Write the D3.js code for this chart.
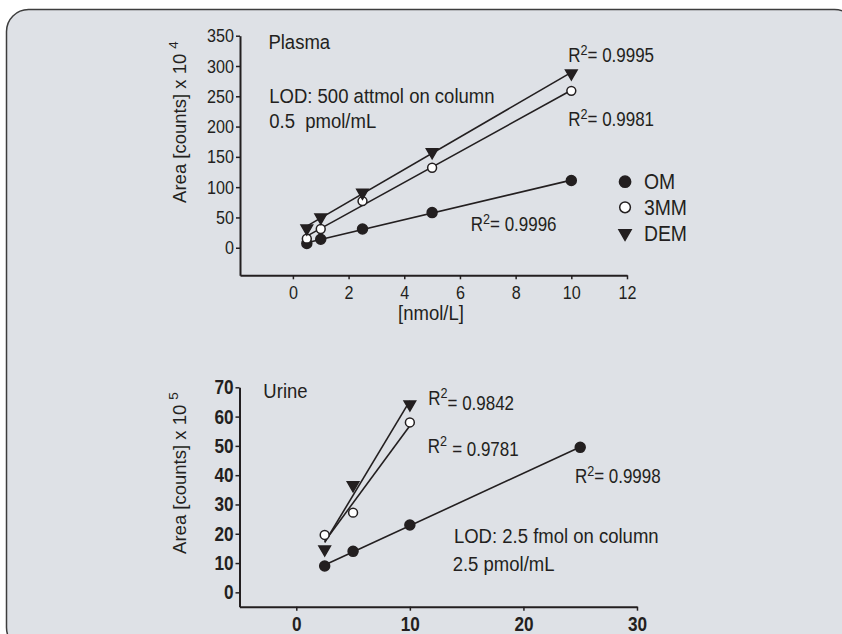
<!DOCTYPE html>
<html>
<head>
<meta charset="utf-8">
<script src="https://cdn.jsdelivr.net/npm/d3@7"></script>
<style>
  body { margin: 0; background: #fff; }
  svg { display: block; }
  text { font-family: 'Liberation Sans', Arial, sans-serif; fill: #231f20; white-space: pre; }
</style>
</head>
<body>
<div id="chart"></div>
<script>
// chart.js
const W = 842;
const H = 634;

const seriesNames = ['OM', '3MM', 'DEM'];

// plasma panel
const plasmaX = [0.5, 1, 2.5, 5, 10];
const plasmaOM = [7, 14, 31, 58, 111];
const plasma3MM = [15, 31, 77, 132, 259];
const plasmaDEM = [32, 50, 91, 158, 288];
const plasmaR2 = ['0.9996', '0.9981', '0.9995'];
const plasmaXTicks = [0, 2, 4, 6, 8, 10, 12];
const plasmaYTicks = [0, 50, 100, 150, 200, 250, 300, 350];

// urine panel
const urineX = [2.5, 5, 10, 25];
const urineOM = [9, 14, 23, 49.5];
const urine3MM = [19.6, 27.2, 58];
const urineDEM = [14.7, 36.6, 64.2];
const urineR2 = ['0.9998', '0.9781', '0.9842'];
const urineXTicks = [0, 10, 20, 30];
const urineYTicks = [0, 10, 20, 30, 40, 50, 60, 70];

const ink = '#231f20';

const svg = d3.select('#chart').append('svg').attr('width', W).attr('height', H);

// rounded grey background panel
svg.append('rect')
  .attr('x', 6.5).attr('y', 9.5)
  .attr('width', 850).attr('height', 640)
  .attr('rx', 22)
  .attr('fill', '#dee1e6')
  .attr('stroke', '#3d3d3d')
  .attr('stroke-width', 1.5);

function fit(xs, ys) {
  const mx = d3.mean(xs), my = d3.mean(ys);
  let sxy = 0, sxx = 0;
  xs.forEach((x, i) => { sxy += (x - mx) * (ys[i] - my); sxx += (x - mx) * (x - mx); });
  const b = sxy / sxx;
  return x => my + b * (x - mx);
}

const symbols = {
  OM: { type: d3.symbolCircle, size: 78, legend: 100, fill: ink, rot: 0 },
  '3MM': { type: d3.symbolCircle, size: 62, legend: 90, fill: '#fff', rot: 0 },
  DEM: { type: d3.symbolTriangle, size: 58, legend: 64, fill: ink, rot: 180 }
};

// text squeezed horizontally, the original face is a condensed one
function label(g, px, py, size, sx) {
  return g.append('text')
    .attr('transform', `translate(${px},${py}) scale(${sx},1)`)
    .style('font-size', size + 'px');
}

function drawPanel(cfg) {
  const g = svg.append('g');
  const x = d3.scaleLinear().domain(cfg.xDomain).range(cfg.xRange);
  const y = d3.scaleLinear().domain(cfg.yDomain).range(cfg.yRange);

  const yAxis = g.append('g')
    .attr('transform', `translate(${cfg.xRange[0]},0)`)
    .call(d3.axisLeft(y).tickValues(cfg.yTicks).tickSize(4).tickSizeOuter(0).tickPadding(2));
  const xAxis = g.append('g')
    .attr('transform', `translate(0,${cfg.yRange[0]})`)
    .call(d3.axisBottom(x).tickValues(cfg.xTicks).tickSize(4).tickSizeOuter(0).tickPadding(6));

  [yAxis, xAxis].forEach(a => {
    a.select('.domain').attr('stroke', ink).attr('stroke-width', 2);
    a.selectAll('.tick line').attr('stroke', ink).attr('stroke-width', 1.5);
    a.selectAll('.tick text')
      .attr('fill', ink)
      .style('font-family', "'Liberation Sans', Arial, sans-serif")
      .style('font-size', cfg.tickSize + 'px')
      .style('font-weight', cfg.tickWeight);
  });
  yAxis.selectAll('.tick text').attr('x', 0).attr('transform', `translate(-6,0) scale(${cfg.tickSx},1)`);
  xAxis.selectAll('.tick text').attr('transform', `scale(${cfg.tickSx},1)`);

  // y label with superscript exponent
  const yl = g.append('text')
    .attr('transform', `translate(${cfg.yLabelX},${cfg.yLabelY}) rotate(-90)`)
    .attr('text-anchor', 'middle')
    .style('font-size', '18.5px');
  yl.append('tspan').text('Area [counts] x 10 ');
  yl.append('tspan').attr('dy', -8).style('font-size', '13.5px').text(cfg.exponent);

  if (cfg.xLabel) {
    label(g, cfg.xLabel.x, cfg.xLabel.y, 19.5, 0.95)
      .attr('text-anchor', 'middle')
      .text(cfg.xLabel.text);
  }

  // regression lines then markers
  cfg.series.forEach(s => {
    const xs = cfg.xs.slice(0, s.values.length);
    const f = fit(xs, s.values);
    g.append('path')
      .datum(d3.extent(xs))
      .attr('d', d3.line().x(d => x(d)).y(d => y(f(d))))
      .attr('stroke', ink)
      .attr('stroke-width', 1.6)
      .attr('fill', 'none');
  });
  cfg.series.forEach(s => {
    const sym = symbols[s.name];
    g.append('g').selectAll('path')
      .data(s.values)
      .join('path')
      .attr('transform', (d, i) => `translate(${x(cfg.xs[i])},${y(d)}) rotate(${sym.rot})`)
      .attr('d', d3.symbol().type(sym.type).size(sym.size))
      .attr('fill', sym.fill)
      .attr('stroke', ink)
      .attr('stroke-width', 1.5);
  });

  // plain annotations
  cfg.notes.forEach(n => {
    label(g, x(n.x), y(n.y), 19.5, 0.95).text(n.text);
  });

  // R^2 labels
  cfg.r2.forEach(r => {
    const t = label(g, x(r.x), y(r.y), 19.5, 0.87);
    t.append('tspan').text('R');
    t.append('tspan').attr('dy', -7).style('font-size', '14.5px').text('2');
    t.append('tspan').attr('dy', 7 + (r.dy || 0)).attr('dx', r.dx || 0).text('= ' + r.value);
  });

  return { x, y, g };
}

const plasmaPanel = drawPanel({
  xDomain: [-1.9, 12], xRange: [240, 627],
  yDomain: [-45.5, 350], yRange: [275.3, 35.7],
  xTicks: plasmaXTicks, yTicks: plasmaYTicks,
  tickSize: 19, tickWeight: 'normal', tickSx: 0.85,
  yLabelX: 186, yLabelY: 122, exponent: '4',
  xLabel: { x: 431, y: 320, text: '[nmol/L]' },
  xs: plasmaX,
  series: [
    { name: 'OM', values: plasmaOM },
    { name: '3MM', values: plasma3MM },
    { name: 'DEM', values: plasmaDEM }
  ],
  notes: [
    { x: -0.88, y: 328, text: 'Plasma' },
    { x: -0.85, y: 239, text: 'LOD: 500 attmol on column' },
    { x: -0.85, y: 197.6, text: '0.5  pmol/mL' }
  ],
  r2: [
    { x: 6.39, y: 28, value: plasmaR2[0] },
    { x: 9.89, y: 201, value: plasmaR2[1] },
    { x: 9.89, y: 307, value: plasmaR2[2] }
  ]
});

// legend (in plasma data space)
const legendY = [109, 66.7, 23.8];
seriesNames.forEach((name, i) => {
  const sym = symbols[name];
  plasmaPanel.g.append('path')
    .attr('transform', `translate(${plasmaPanel.x(11.93)},${plasmaPanel.y(legendY[i])}) rotate(${sym.rot})`)
    .attr('d', d3.symbol().type(sym.type).size(sym.legend))
    .attr('fill', sym.fill)
    .attr('stroke', ink)
    .attr('stroke-width', 1.5);
  label(plasmaPanel.g, plasmaPanel.x(12.61), plasmaPanel.y(legendY[i]) + 7.5, 21.5, 0.9).text(name);
});

drawPanel({
  xDomain: [-5, 30], xRange: [239.5, 637],
  yDomain: [-4.9, 70], yRange: [606.7, 387.3],
  xTicks: urineXTicks, yTicks: urineYTicks,
  tickSize: 20, tickWeight: 'bold', tickSx: 0.86,
  yLabelX: 186, yLabelY: 473, exponent: '5',
  xs: urineX,
  series: [
    { name: 'OM', values: urineOM },
    { name: '3MM', values: urine3MM },
    { name: 'DEM', values: urineDEM }
  ],
  notes: [
    { x: -2.9, y: 66.2, text: 'Urine' },
    { x: 13.88, y: 16.7, text: 'LOD: 2.5 fmol on column' },
    { x: 13.77, y: 7.4, text: '2.5 pmol/mL' }
  ],
  r2: [
    { x: 24.53, y: 37.5, value: urineR2[0] },
    { x: 11.57, y: 47.6, value: urineR2[1], dy: 3.5, dx: 6 },
    { x: 11.62, y: 63.9, value: urineR2[2], dy: 5 }
  ]
});
</script>
</body>
</html>
